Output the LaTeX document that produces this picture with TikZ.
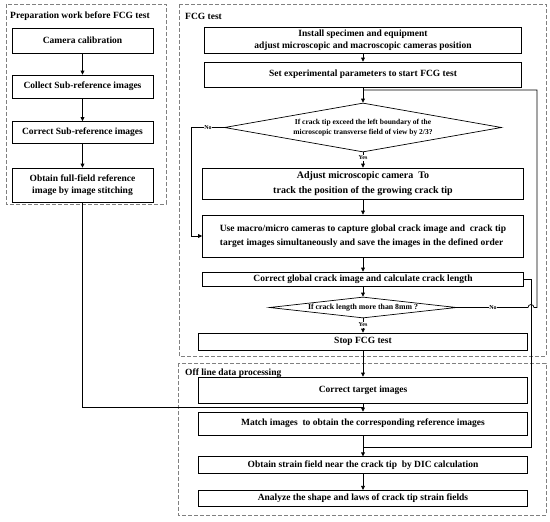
\documentclass[tikz,border=0pt]{standalone}
\usepackage{fontspec}
\setmainfont{Liberation Serif}
\usetikzlibrary{shapes.geometric,arrows.meta}
\begin{document}
\begin{tikzpicture}[x=1pt,y=-1pt,
  bx/.style={draw, line width=0.7pt, inner sep=0pt, align=center, font=\bfseries\fontsize{9.5}{12.5}\selectfont},
  grp/.style={draw=gray, dash pattern=on 4pt off 2pt, line width=0.8pt},
  dia/.style={diamond, draw, line width=0.7pt, inner sep=0pt, align=center, font=\bfseries\fontsize{7.5}{10}\selectfont},
  ar/.style={line width=0.7pt, -{Triangle[length=4pt,width=3.8pt]}},
  ln/.style={line width=0.7pt},
  lbl/.style={fill=white, inner sep=0.6pt, font=\bfseries\fontsize{6}{7}\selectfont},
  ttl/.style={anchor=west, inner sep=0pt, font=\bfseries\fontsize{9.5}{12}\selectfont}]
\useasboundingbox (0,0) rectangle (550,522);
\fill[white] (0,0) rectangle (550,522);
% group frames
\draw[grp] (6,4) rectangle (166,204);
\draw[grp] (179,4) rectangle (546,356);
\draw[grp] (178,363) rectangle (546,515);
\node[ttl] (t1) at (10,16) {Preparation work before FCG test};
\node[ttl] (t2) at (185,16) {FCG test};
\node[ttl] (t3) at (185,373) {Off line data processing};
% left column
\node[bx, minimum width=141pt, minimum height=25pt] (cam) at (82.5,40.5) {Camera calibration};
\node[bx, minimum width=141pt, minimum height=23pt] (col) at (82.5,86.5) {Collect Sub-reference images};
\node[bx, minimum width=141pt, minimum height=22pt] (cor) at (82.5,132.5) {Correct Sub-reference images};
\node[bx, minimum width=141pt, minimum height=34pt] (obt) at (82.5,185) {Obtain full-field reference\\image by image stitching};
% FCG test
\node[bx, minimum width=317pt, minimum height=26pt, font=\bfseries\fontsize{9.5}{12}\selectfont] (inst) at (363,40) {Install specimen and equipment\\adjust microscopic and macroscopic cameras position};
\node[bx, minimum width=317pt, minimum height=25pt] (set) at (363,74.5) {Set experimental parameters to start FCG test};
\node[dia, aspect=5.65, minimum width=277pt, minimum height=49pt] (d1) at (363,127.5) {If crack tip exceed the left boundary of the\\microscopic transverse field of view by 2/3?};
\node[bx, minimum width=321pt, minimum height=31pt, font=\bfseries\fontsize{10}{14.5}\selectfont] (adj) at (363,183.5) {Adjust microscopic camera\ \ To\\track the position of the growing crack tip};
\node[bx, minimum width=321pt, minimum height=42pt, align=left, font=\bfseries\fontsize{9.5}{14}\selectfont] (use) at (363,236) {Use macro/micro cameras to capture global crack image and\ \ crack tip\\target images simultaneously and save the images in the defined order};
\node[bx, minimum width=321pt, minimum height=14pt] (cg) at (363,279) {Correct global crack image and calculate crack length};
\node[dia, aspect=8.9, minimum width=187pt, minimum height=21pt, font=\bfseries\fontsize{7.8}{10}\selectfont] (d2) at (363,307.5) {If crack length more than 8mm ?};
\node[bx, minimum width=329pt, minimum height=17pt] (stop) at (363,341.5) {Stop FCG test};
% Off line
\node[bx, minimum width=329pt, minimum height=26pt] (ct) at (363,390) {Correct target images};
\node[bx, minimum width=329pt, minimum height=23pt] (mt) at (363,423.5) {Match images\ \ to obtain the corresponding reference images};
\node[bx, minimum width=329pt, minimum height=16.5pt] (os) at (363,465) {Obtain strain field near the crack tip\ \ by DIC calculation};
\node[bx, minimum width=329pt, minimum height=16.5pt] (an) at (363,498.5) {Analyze the shape and laws of crack tip strain fields};
% junction points
\coordinate (j1) at (363,407.5);
\coordinate (j2) at (363,90);
\coordinate (j3) at (363,447);
% connectors
\draw[ar] (cam.south) -- (col.north);
\draw[ar] (col.south) -- (cor.north);
\draw[ar] (cor.south) -- (obt.north);
\draw[ln] (obt.south) |- (j1);
\draw[ar] (inst.south) -- (set.north);
\draw[ar] (set.south) -- (d1.north);
\draw[ar] (d1.south) -- (adj.north);
\draw[ar] (d1.west) -- (191,127.5) |- (use.west);
\draw[ar] (adj.south) -- (use.north);
\draw[ar] (use.south) -- (cg.north);
\draw[ar] (cg.south) -- (d2.north);
\draw[ar] (d2.south) -- (stop.north);
\draw[ln] (d2.east) -- (528,307.5) arc[start angle=180, end angle=360, radius=3] -- (537,307.5) -- (537,90) -- (j2);
\draw[ln] (cg.east) -- (531,279) -- (531,447) -- (j3);
\draw[ar] (stop.south) -- (ct.north);
\draw[ar] (ct.south) -- (mt.north);
\draw[ar] (mt.south) -- (os.north);
\draw[ar] (os.south) -- (an.north);
% labels
\node[lbl] (n1) at (208,127.5) {No};
\node[lbl] (y1) at (363,158) {Yes};
\node[lbl] (n2) at (493,307.5) {No};
\node[lbl] (y2) at (363,325) {Yes};
\end{tikzpicture}
\end{document}
